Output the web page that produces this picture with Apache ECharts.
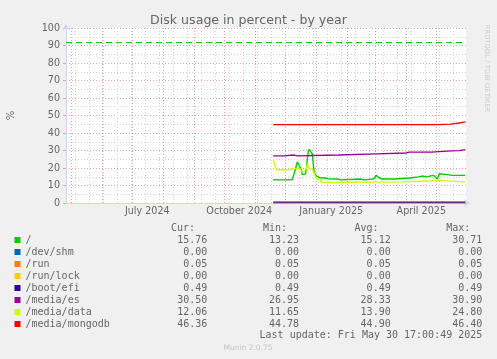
<!DOCTYPE html>
<html><head><meta charset="utf-8">
<script src="https://cdn.jsdelivr.net/npm/echarts@6/dist/echarts.min.js"></script>
<style>html,body{margin:0;padding:0;background:#f0f0f0}#c{width:497px;height:359px}</style>
</head><body><div id="c"></div>
<script>
// ---- data ----
const seriesNames = ['/', '/dev/shm', '/run', '/run/lock', '/boot/efi', '/media/es', '/media/data', '/media/mongodb'];
const seriesColors = ['#00CC00', '#0066B3', '#FF8000', '#FFCC00', '#330099', '#990099', '#CCFF00', '#FF0000'];
const curValues = [15.76, 0.00, 0.05, 0.00, 0.49, 30.50, 12.06, 46.36];
const minValues = [13.23, 0.00, 0.05, 0.00, 0.49, 26.95, 11.65, 44.78];
const avgValues = [15.12, 0.00, 0.05, 0.00, 0.49, 28.33, 13.90, 44.90];
const maxValues = [30.71, 0.00, 0.05, 0.00, 0.49, 30.90, 24.80, 46.40];
const warningLevel = 92;

const rootData = [
  ['2024-11-19', 13.3], ['2024-11-26', 13.2], ['2024-12-03', 13.3], ['2024-12-08', 13.4],
  ['2024-12-11', 19.0], ['2024-12-13', 23.5], ['2024-12-14', 24.3], ['2024-12-15', 23.8],
  ['2024-12-17', 19.0], ['2024-12-18', 16.2], ['2024-12-20', 16.0], ['2024-12-21', 16.5],
  ['2024-12-22', 19.0], ['2024-12-23', 25.0], ['2024-12-24', 29.5], ['2024-12-25', 30.7],
  ['2024-12-27', 30.5], ['2024-12-28', 28.0], ['2024-12-29', 22.0], ['2024-12-30', 17.5],
  ['2025-01-01', 15.5], ['2025-01-03', 14.8], ['2025-01-05', 14.3], ['2025-01-10', 14.3],
  ['2025-01-13', 13.8], ['2025-01-22', 13.7], ['2025-01-23', 13.2], ['2025-01-26', 13.2],
  ['2025-01-27', 13.7], ['2025-02-14', 13.7], ['2025-02-15', 13.2], ['2025-02-18', 13.2],
  ['2025-02-19', 13.7], ['2025-02-27', 13.7], ['2025-03-01', 14.8], ['2025-03-02', 15.8],
  ['2025-03-03', 15.3], ['2025-03-05', 14.3], ['2025-03-08', 13.7], ['2025-03-21', 13.7],
  ['2025-03-22', 14.3], ['2025-04-04', 14.3], ['2025-04-05', 14.9], ['2025-04-13', 14.9],
  ['2025-04-14', 15.4], ['2025-04-18', 15.4], ['2025-04-19', 14.9], ['2025-04-21', 14.9],
  ['2025-04-22', 15.8], ['2025-04-28', 15.8], ['2025-04-30', 14.8], ['2025-05-02', 13.7],
  ['2025-05-03', 14.5], ['2025-05-04', 16.7], ['2025-05-06', 16.4], ['2025-05-12', 16.2],
  ['2025-05-17', 15.8], ['2025-05-23', 15.8], ['2025-05-24', 15.2], ['2025-05-25', 15.9],
  ['2025-05-30', 15.76]
];
const devShmData = [['2024-11-19', 0.00], ['2025-05-30', 0.00]];
const runData = [['2024-11-19', 0.05], ['2025-05-30', 0.05]];
const runLockData = [['2024-11-19', 0.00], ['2025-05-30', 0.00]];
const bootEfiData = [['2024-11-19', 0.49], ['2025-05-30', 0.49]];
const mediaEsData = [
  ['2024-11-19', 26.95], ['2024-11-30', 26.95], ['2024-12-01', 27.4], ['2024-12-09', 27.4],
  ['2024-12-10', 26.95], ['2024-12-13', 26.95], ['2024-12-14', 27.4], ['2025-01-23', 27.4],
  ['2025-01-24', 28.1], ['2025-03-02', 28.1], ['2025-03-03', 28.6], ['2025-04-01', 28.6],
  ['2025-04-02', 29.1], ['2025-04-04', 29.1], ['2025-04-05', 28.9], ['2025-04-06', 29.1],
  ['2025-04-26', 29.1], ['2025-04-27', 29.8], ['2025-05-16', 29.8], ['2025-05-17', 30.3],
  ['2025-05-18', 29.9], ['2025-05-24', 29.9], ['2025-05-25', 30.5], ['2025-05-30', 30.5]
];
const mediaDataData = [
  ['2024-11-19', 24.7], ['2024-11-21', 24.5], ['2024-11-22', 19.0], ['2024-12-02', 19.0],
  ['2024-12-03', 19.4], ['2024-12-10', 19.6], ['2024-12-13', 19.8], ['2024-12-16', 19.5],
  ['2024-12-17', 18.0], ['2024-12-20', 18.2], ['2024-12-22', 19.5], ['2024-12-23', 22.3],
  ['2024-12-24', 21.5], ['2024-12-25', 19.6], ['2024-12-28', 19.4], ['2024-12-30', 19.0],
  ['2024-12-31', 15.5], ['2025-01-01', 13.7], ['2025-01-05', 13.7], ['2025-01-06', 11.8],
  ['2025-01-13', 11.7], ['2025-01-14', 12.1], ['2025-03-29', 12.1], ['2025-03-30', 12.6],
  ['2025-04-28', 12.7], ['2025-04-30', 13.2], ['2025-05-02', 12.9], ['2025-05-03', 12.1],
  ['2025-05-30', 12.06]
];
const mediaMongoData = [
  ['2024-11-19', 44.78], ['2025-05-03', 44.78], ['2025-05-04', 45.1], ['2025-05-15', 45.1],
  ['2025-05-16', 45.7], ['2025-05-24', 45.7], ['2025-05-25', 46.36], ['2025-05-30', 46.36]
];
const seriesData = [rootData, devShmData, runData, runLockData, bootEfiData, mediaEsData, mediaDataData, mediaMongoData];

const rangeStart = '2024-04-25 17:00:49';
const rangeEnd = '2025-05-30 17:00:49';
const monthStarts = ['2024-05-01', '2024-06-01', '2024-07-01', '2024-08-01', '2024-09-01', '2024-10-01',
  '2024-11-01', '2024-12-01', '2025-01-01', '2025-02-01', '2025-03-01', '2025-04-01', '2025-05-01'];
const firstMinorGrid = '2024-05-05';
const minorGridStepDays = 14;
const xTickDates = ['2024-07-16', '2024-10-16', '2025-01-16', '2025-04-16'];
const xTickLabels = ['July 2024', 'October 2024', 'January 2025', 'April 2025'];
const yTicks = { min: 0, max: 100, interval: 10 };
const titleText = 'Disk usage in percent - by year';
const lastUpdate = 'Last update: Fri May 30 17:00:49 2025';

// ---- build ----
const P = s => +echarts.time.parse(s);
const tMin = P(rangeStart), tMax = P(rangeEnd);
const monthTs = monthStarts.map(P);
const minorTs = [];
for (let t = P(firstMinorGrid); t < tMax; t += minorGridStepDays * 86400000) minorTs.push(t);
const labelTs = xTickDates.map(P);

const FONT = 'DejaVu Sans';
const MONO = 'DejaVu Sans Mono';
const TXT = '#666666';
const MAJOR = '#E8A4A4';
const MINOR = '#D2D2D2';
const AXIS = '#CFD6F8';

const chart = echarts.init(document.getElementById('c'), null, { renderer: 'canvas' });
const fmt = v => v.toFixed(2);
const richBase = { fontFamily: MONO, fontSize: 10, color: TXT, lineHeight: 12 };
const gridSeries = (vals, color, z) => ({
  type: 'line', data: [], silent: true, z,
  markLine: {
    silent: true, symbol: 'none', label: { show: false }, animation: false,
    lineStyle: { color, type: [1, 2], width: 1 },
    emphasis: { disabled: true },
    data: vals.map(t => ({ xAxis: t }))
  }
});

const option = {
  animation: false,
  backgroundColor: '#F0F0F0',
  title: {
    text: titleText, left: 'center', top: 14.5, padding: 0,
    textStyle: { fontFamily: FONT, fontSize: 12.6, fontWeight: 'normal', color: TXT }
  },
  grid: {
    left: 66, top: 28, width: 400, height: 175, show: true, backgroundColor: '#FFFFFF', borderWidth: 0,
    containLabel: false, outerBoundsMode: 'none'
  },
  xAxis: {
    type: 'value', min: tMin, max: tMax, position: 'bottom', z: 3,
    axisLine: { show: true, lineStyle: { color: AXIS, width: 1 }, symbol: ['none', 'arrow'], symbolSize: [6, 6], symbolOffset: [0, 4] },
    axisTick: { show: false },
    splitLine: { show: false },
    axisLabel: {
      customValues: labelTs, margin: 3, color: TXT, fontFamily: FONT, fontSize: 9.6,
      formatter: v => { const i = labelTs.indexOf(v); return i >= 0 ? xTickLabels[i] : ''; }
    }
  },
  yAxis: {
    type: 'value', min: yTicks.min, max: yTicks.max, interval: yTicks.interval, z: 3,
    name: '%', nameLocation: 'middle', nameGap: 50, nameRotate: 90,
    nameTextStyle: { fontFamily: FONT, fontSize: 10, color: TXT },
    axisLine: { show: true, lineStyle: { color: AXIS, width: 1 }, symbol: ['none', 'arrow'], symbolSize: [6, 6], symbolOffset: [0, 4] },
    axisTick: { show: true, length: 3, lineStyle: { color: MAJOR } },
    axisLabel: { margin: 6, color: TXT, fontFamily: FONT, fontSize: 9.6 },
    splitLine: { show: true, lineStyle: { color: MAJOR, type: [1, 2], width: 1 } },
    minorTick: { show: false, splitNumber: 2 },
    minorSplitLine: { show: true, lineStyle: { color: MINOR, type: [1, 2], width: 1 } }
  },
  legend: {
    orient: 'vertical', left: 14.5, top: 234, padding: 0, itemGap: 0,
    itemWidth: 6, itemHeight: 6, icon: 'rect', selectedMode: false,
    data: seriesNames,
    formatter: name => {
      const i = seriesNames.indexOf(name);
      return `{n|${name}}{c|${fmt(curValues[i])}}{m|${fmt(minValues[i])}}{a|${fmt(avgValues[i])}}{x|${fmt(maxValues[i])}}`;
    },
    textStyle: Object.assign({}, richBase, {
      rich: {
        n: Object.assign({}, richBase, { width: 131.8 }),
        c: Object.assign({}, richBase, { width: 50, align: 'right' }),
        m: Object.assign({}, richBase, { width: 91.7, align: 'right' }),
        a: Object.assign({}, richBase, { width: 91.7, align: 'right' }),
        x: Object.assign({}, richBase, { width: 91.6, align: 'right' })
      }
    })
  },
  graphic: [
    { type: 'text', x: 195, y: 228.5, style: { text: 'Cur:', align: 'right', verticalAlign: 'middle', font: `10px "${MONO}"`, fill: TXT } },
    { type: 'text', x: 287, y: 228.5, style: { text: 'Min:', align: 'right', verticalAlign: 'middle', font: `10px "${MONO}"`, fill: TXT } },
    { type: 'text', x: 378.5, y: 228.5, style: { text: 'Avg:', align: 'right', verticalAlign: 'middle', font: `10px "${MONO}"`, fill: TXT } },
    { type: 'text', x: 470.3, y: 228.5, style: { text: 'Max:', align: 'right', verticalAlign: 'middle', font: `10px "${MONO}"`, fill: TXT } },
    { type: 'text', x: 482.3, y: 335.8, style: { text: lastUpdate, align: 'right', verticalAlign: 'middle', font: `10px "${MONO}"`, fill: TXT } },
    { type: 'text', x: 248, y: 348.5, style: { text: 'Munin 2.0.75', align: 'center', verticalAlign: 'middle', font: `7.5px "${FONT}"`, fill: '#C4C4C4' } },
    { type: 'text', x: 487, y: 68.5, rotation: -Math.PI / 2, style: { text: 'RRDTOOL / TOBI OETIKER', align: 'center', verticalAlign: 'middle', font: `6.8px "${FONT}"`, fill: '#CCCCCC' } }
  ],
  series: [gridSeries(minorTs, MINOR, 1), gridSeries(monthTs, MAJOR, 1)].concat(seriesNames.map((name, i) => {
    const s = {
      name, type: 'line', data: seriesData[i].map(d => [P(d[0]), d[1]]), showSymbol: false, symbol: 'none',
      color: seriesColors[i], lineStyle: { color: seriesColors[i], width: 1.4 }, z: 5 + i
    };
    if (i === 0) {
      s.markLine = {
        silent: true, symbol: 'none', label: { show: false },
        lineStyle: { color: seriesColors[0], type: [6, 4], width: 1 },
        data: [{ yAxis: warningLevel }]
      };
    }
    return s;
  }))
};
chart.setOption(option);
</script></body></html>
